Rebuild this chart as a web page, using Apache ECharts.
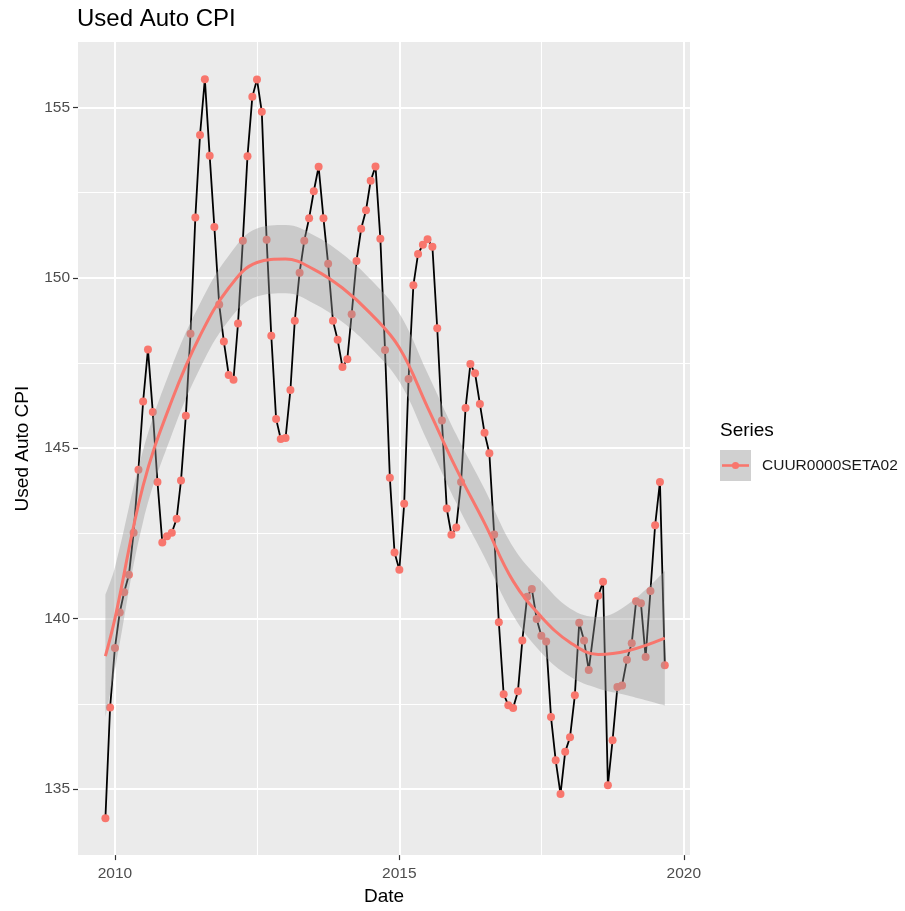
<!DOCTYPE html>
<html>
<head>
<meta charset="utf-8">
<script src="https://cdn.jsdelivr.net/npm/echarts@6/dist/echarts.min.js"></script>
<style>
html,body{margin:0;padding:0;background:#fff;}
#chart{width:905px;height:911px;}
</style>
</head>
<body>
<div id="chart"></div>
<script>
// ---- Data ----
const dates = [
 '2009-11-01','2009-12-01',
 '2010-01-01','2010-02-01','2010-03-01','2010-04-01','2010-05-01','2010-06-01','2010-07-01','2010-08-01','2010-09-01','2010-10-01','2010-11-01','2010-12-01',
 '2011-01-01','2011-02-01','2011-03-01','2011-04-01','2011-05-01','2011-06-01','2011-07-01','2011-08-01','2011-09-01','2011-10-01','2011-11-01','2011-12-01',
 '2012-01-01','2012-02-01','2012-03-01','2012-04-01','2012-05-01','2012-06-01','2012-07-01','2012-08-01','2012-09-01','2012-10-01','2012-11-01','2012-12-01',
 '2013-01-01','2013-02-01','2013-03-01','2013-04-01','2013-05-01','2013-06-01','2013-07-01','2013-08-01','2013-09-01','2013-10-01','2013-11-01','2013-12-01',
 '2014-01-01','2014-02-01','2014-03-01','2014-04-01','2014-05-01','2014-06-01','2014-07-01','2014-08-01','2014-09-01','2014-10-01','2014-11-01','2014-12-01',
 '2015-01-01','2015-02-01','2015-03-01','2015-04-01','2015-05-01','2015-06-01','2015-07-01','2015-08-01','2015-09-01','2015-10-01','2015-11-01','2015-12-01',
 '2016-01-01','2016-02-01','2016-03-01','2016-04-01','2016-05-01','2016-06-01','2016-07-01','2016-08-01','2016-09-01','2016-10-01','2016-11-01','2016-12-01',
 '2017-01-01','2017-02-01','2017-03-01','2017-04-01','2017-05-01','2017-06-01','2017-07-01','2017-08-01','2017-09-01','2017-10-01','2017-11-01','2017-12-01',
 '2018-01-01','2018-02-01','2018-03-01','2018-04-01','2018-05-01','2018-07-01','2018-08-01','2018-09-01','2018-10-01','2018-11-01','2018-12-01',
 '2019-01-01','2019-02-01','2019-03-01','2019-04-01','2019-05-01','2019-06-01','2019-07-01','2019-08-01','2019-09-01'
];
const values = [
 134.14,137.39,
 139.14,140.18,140.77,141.29,142.52,144.37,146.37,147.90,146.06,144.01,142.23,142.42,
 142.52,142.93,144.05,145.95,148.36,151.77,154.19,155.83,153.58,151.49,149.22,148.13,
 147.15,147.01,148.66,151.09,153.57,155.31,155.82,154.87,151.12,148.30,145.86,145.27,
 145.30,146.71,148.74,150.15,151.09,151.75,152.54,153.26,151.75,150.41,148.74,148.18,
 147.38,147.61,148.93,150.49,151.44,151.98,152.85,153.27,151.15,147.88,144.13,141.94,
 141.43,143.37,147.03,149.78,150.70,150.97,151.13,150.91,148.52,145.81,143.23,142.46,
 142.67,144.01,146.18,147.47,147.20,146.30,145.45,144.85,142.47,139.89,137.78,137.46,
 137.38,137.87,139.36,140.64,140.87,139.99,139.50,139.33,137.11,135.84,134.85,136.09,
 136.52,137.75,139.88,139.36,138.49,140.67,141.08,135.11,136.43,137.99,138.04,
 138.79,139.28,140.51,140.45,138.87,140.81,142.74,144.01,138.63
];
// loess fit and its confidence band at sample dates
const fitDates = ['2009-11-01','2010-01-01','2010-07-01','2011-01-01','2011-07-01','2012-01-01','2012-07-01','2013-01-01','2013-07-01','2014-01-01','2014-07-01','2015-01-01','2015-07-01','2016-01-01','2016-07-01','2017-01-01','2017-07-01','2018-01-01','2018-07-01','2019-01-01','2019-09-01'];
const fitValues = [138.9,140.0,143.9,146.4,148.3,149.7,150.45,150.55,150.25,149.7,148.95,147.95,146.2,144.4,142.8,141.1,140.05,139.3,138.95,139.05,139.43];
const bandUpper = [140.7,141.5,144.95,147.4,149.25,150.65,151.45,151.55,151.25,150.7,149.95,148.95,147.2,145.4,143.8,142.1,141.1,140.3,140.05,140.4,141.4];
const bandLower = [137.1,138.5,142.85,145.4,147.35,148.75,149.45,149.55,149.25,148.7,147.95,146.95,145.2,143.4,141.8,140.1,139.0,138.3,137.95,137.75,137.45];
const xTickYears = [2010, 2015, 2020];
const xMinorYears = [2012.5, 2017.5];
const yTicks = [135, 140, 145, 150, 155];
const yMinor = [137.5, 142.5, 147.5, 152.5];
const seriesName = 'CUUR0000SETA02';

// ---- helpers ----
// date string -> fractional year (position on the x value axis)
function toYear(s) {
  const p = s.split('-').map(Number);
  const t = Date.UTC(p[0], p[1] - 1, p[2]);
  const a = Date.UTC(p[0], 0, 1), b = Date.UTC(p[0] + 1, 0, 1);
  return p[0] + (t - a) / (b - a);
}
const FONT = 'Liberation Sans, Arial, Helvetica, sans-serif';
const RED = '#F8766D';

const legendSvg = '<svg xmlns="http://www.w3.org/2000/svg" width="31" height="31" viewBox="0 0 31 31">' +
  '<rect x="0" y="0" width="31" height="31" fill="#D0D0D0"/>' +
  '<line x1="2" y1="15.5" x2="29" y2="15.5" stroke="' + RED + '" stroke-width="2.6"/>' +
  '<circle cx="15.5" cy="15.5" r="3.6" fill="' + RED + '"/></svg>';
const legendIcon = 'image://data:image/svg+xml;charset=utf-8,' + encodeURIComponent(legendSvg);

const gridLines = [];
xTickYears.forEach(y => gridLines.push({ xAxis: y, lineStyle: { width: 2 } }));
xMinorYears.forEach(y => gridLines.push({ xAxis: y, lineStyle: { width: 1.1 } }));
yTicks.forEach(v => gridLines.push({ yAxis: v, lineStyle: { width: 2 } }));
yMinor.forEach(v => gridLines.push({ yAxis: v, lineStyle: { width: 1.1 } }));

const pts = dates.map((d, i) => [toYear(d), values[i]]);
// band rows are [value, year] so that the stack is applied to the value dimension
const bandLowRows = fitDates.map((d, i) => [bandLower[i], toYear(d)]);
const bandDiffRows = fitDates.map((d, i) => [+(bandUpper[i] - bandLower[i]).toFixed(3), toYear(d)]);

const chart = echarts.init(document.getElementById('chart'), null, { renderer: 'canvas', width: 905, height: 911 });
chart.setOption({
  animation: false,
  backgroundColor: '#FFFFFF',
  textStyle: { fontFamily: FONT },
  title: [
    { text: 'Used Auto CPI', left: 77, top: 7, padding: 0,
      textStyle: { fontSize: 24, fontWeight: 'normal', color: '#000', fontFamily: FONT } },
    { text: 'Series', left: 720, top: 421, padding: 0,
      textStyle: { fontSize: 19, fontWeight: 'normal', color: '#000', fontFamily: FONT } }
  ],
  legend: {
    data: [{ name: seriesName, icon: legendIcon }],
    left: 720, top: 450, padding: 0,
    itemWidth: 31, itemHeight: 31,
    selectedMode: false,
    textStyle: { fontSize: 15.5, color: '#1a1a1a', fontFamily: FONT, padding: [0, 0, 0, 6] }
  },
  grid: {
    left: 78, top: 42, width: 612, height: 816,
    show: true, backgroundColor: '#EBEBEB', borderWidth: 0, containLabel: false
  },
  xAxis: {
    type: 'value',
    min: 2009.351, max: 2020.109,
    name: 'Date', nameLocation: 'middle', nameGap: 30,
    nameTextStyle: { fontSize: 19, color: '#000', fontFamily: FONT },
    axisLine: { show: false },
    axisTick: { show: true, length: 5, lineStyle: { color: '#333', width: 1.2 }, customValues: xTickYears },
    axisLabel: { margin: 11, fontSize: 15.5, color: '#4D4D4D', fontFamily: FONT, customValues: xTickYears,
      formatter: function (v) { return String(Math.round(v)); } },
    splitLine: { show: false }
  },
  yAxis: {
    type: 'value',
    min: 133.06, max: 156.92,
    name: 'Used Auto CPI', nameLocation: 'middle', nameGap: 46, nameRotate: 90,
    nameTextStyle: { fontSize: 19, color: '#000', fontFamily: FONT },
    axisLine: { show: false },
    axisTick: { show: true, length: 5, lineStyle: { color: '#333', width: 1.2 }, customValues: yTicks },
    axisLabel: { margin: 8, fontSize: 15.5, color: '#4D4D4D', fontFamily: FONT, customValues: yTicks },
    splitLine: { show: false }
  },
  series: [
    { name: 'grid', type: 'line', data: [], z: 1, silent: true,
      markLine: { z: 1, silent: true, symbol: ['none', 'none'], label: { show: false }, animation: false,
        lineStyle: { color: '#FFFFFF', type: 'solid' }, data: gridLines } },
    { name: 'line', type: 'line', z: 2, symbol: 'none', silent: true,
      data: pts, lineStyle: { color: '#000', width: 1.8 } },
    { name: seriesName, type: 'scatter', z: 3, symbolSize: 8, silent: true,
      data: pts, itemStyle: { color: RED, opacity: 1 } },
    { name: 'bandLow', type: 'line', z: 4, stack: 'band', symbol: 'none', smooth: 0.4, silent: true,
      data: bandLowRows, encode: { x: 1, y: 0 },
      lineStyle: { opacity: 0 } },
    { name: 'bandHigh', type: 'line', z: 4, stack: 'band', symbol: 'none', smooth: 0.4, silent: true,
      data: bandDiffRows, encode: { x: 1, y: 0 },
      lineStyle: { opacity: 0 },
      areaStyle: { color: 'rgba(153,153,153,0.4)', opacity: 1 } },
    { name: 'fit', type: 'line', z: 5, symbol: 'none', smooth: 0.4, silent: true,
      data: fitDates.map((d, i) => [toYear(d), fitValues[i]]),
      lineStyle: { color: RED, width: 3 } }
  ]
});
</script>
</body>
</html>
